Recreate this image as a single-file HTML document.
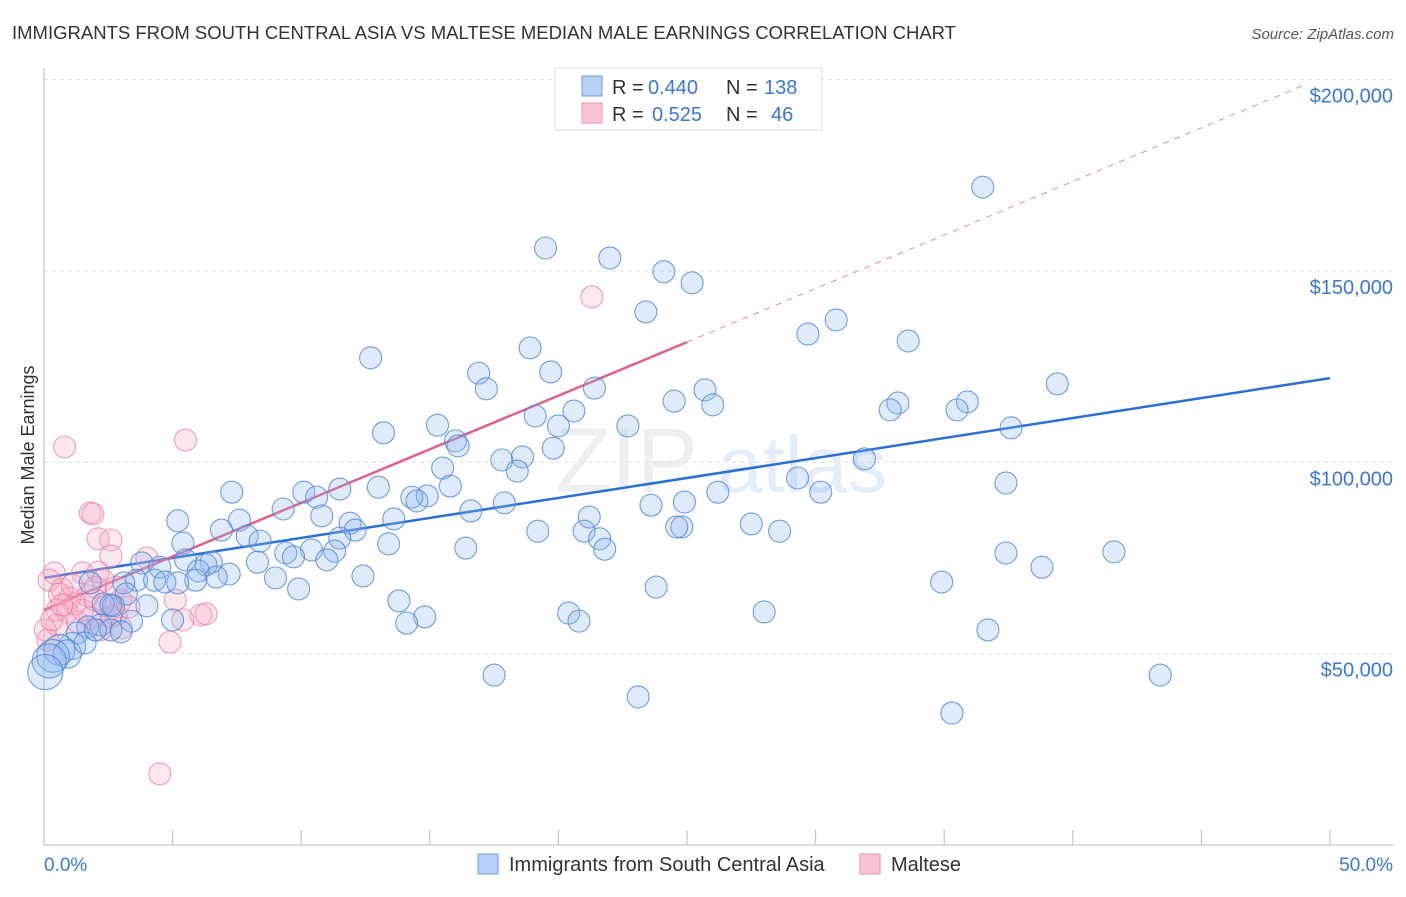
<!DOCTYPE html>
<html><head><meta charset="utf-8"><style>
body{margin:0;background:#fff;font-family:"Liberation Sans",sans-serif}
svg text{font-family:"Liberation Sans",sans-serif}
</style></head><body>
<svg id="chart" width="1406" height="892" xmlns="http://www.w3.org/2000/svg">
<text x="12" y="39" font-size="18.5" fill="#333">IMMIGRANTS FROM SOUTH CENTRAL ASIA VS MALTESE MEDIAN MALE EARNINGS CORRELATION CHART</text>
<text x="1394" y="39" font-size="15" fill="#555" font-style="italic" text-anchor="end">Source: ZipAtlas.com</text>
<g opacity="0.13"><text x="555" y="492" font-size="92" fill="#888" font-family="Liberation Serif">ZIP</text><text x="718" y="492" font-size="80" fill="#3a78d4">atlas</text></g>
<g id="grid"></g><g id="axes"></g><g id="lines"></g><g id="pts"></g>
<text transform="translate(34,455) rotate(-90)" font-size="18" fill="#333" text-anchor="middle">Median Male Earnings</text>
<g font-size="20">
<rect x="555" y="68" width="267" height="62" fill="#fff" stroke="#ddd"/>
<rect x="582" y="76" width="20" height="20" fill="#b7d0f3" stroke="#6b9be0"/>
<rect x="582" y="103" width="20" height="20" fill="#f9c5d5" stroke="#ec93ae"/>
<text x="612" y="94" fill="#333">R =</text><text x="648" y="94" fill="#3a78d4">0.440</text>
<text x="726" y="94" fill="#333">N =</text><text x="764" y="94" fill="#3a78d4">138</text>
<text x="612" y="121" fill="#333">R =</text><text x="652" y="121" fill="#3a78d4">0.525</text>
<text x="726" y="121" fill="#333">N =</text><text x="771" y="121" fill="#3a78d4">46</text>
</g>
<g font-size="20">
<rect x="478" y="854" width="20" height="20" fill="#b7d0f3" stroke="#6b9be0"/>
<text x="509" y="871" fill="#333">Immigrants from South Central Asia</text>
<rect x="860" y="854" width="20" height="20" fill="#f9c5d5" stroke="#ec93ae"/>
<text x="891" y="871" fill="#333">Maltese</text>
</g>
<text x="44" y="871" font-size="19" fill="#3a78d4">0.0%</text>
<text x="1393" y="871" font-size="19" fill="#3a78d4" text-anchor="end">50.0%</text>
</svg>
<script>
const yTicks=[50000,100000,150000,200000];
const yTickLabels=["$50,000","$100,000","$150,000","$200,000"];
const blueX=[19.5,22.0,24.1,25.2,36.5,23.4,30.8,29.7,33.6,18.9,12.7,19.7,16.9,17.2,25.7,21.4,39.4,33.2,24.5,26.0,35.9,32.9,35.5,20.6,19.1,22.7,20.0,37.6,15.3,13.2,16.0,16.1,19.8,15.5,17.8,18.6,18.4,31.9,29.3,37.4,15.8,13.0,11.5,10.1,10.6,7.3,14.9,14.3,14.5,24.9,17.9,23.6,26.2,30.2,16.6,21.2,10.8,5.2,9.3,13.6,11.9,7.6,12.1,6.9,19.2,21.0,24.8,24.6,27.5,28.6,7.9,8.4,11.5,13.4,21.6,21.8,16.4,5.4,11.3,10.4,9.4,9.7,37.4,41.6,38.8,11.0,8.3,6.5,5.5,3.8,6.3,4.5,6.0,7.2,6.7,9.0,12.4,3.6,4.3,3.1,4.7,5.9,34.9,23.8,9.9,1.8,3.2,2.3,2.7,13.8,4.0,20.4,28.0,14.8,14.1,20.8,5.0,3.4,2.2,1.7,1.3,2.6,36.7,1.1,0.6,0.9,0.35,0.2,0.05,17.5,43.4,23.1,35.3,2.6,1.6,5.2,3.0,2.0];
const blueY=[156.0,153.4,149.8,146.9,171.9,139.3,137.2,133.5,131.7,129.9,127.3,123.6,123.3,119.2,118.9,119.4,120.5,115.5,116.0,115.0,115.8,113.7,113.7,113.4,112.1,109.5,109.5,109.0,109.7,107.7,105.6,104.3,103.7,98.5,100.6,101.4,97.7,100.9,95.9,94.6,93.8,93.5,93.0,92.2,90.9,92.2,91.2,90.9,89.9,89.6,89.4,88.8,92.2,92.2,87.3,85.7,86.0,84.7,87.8,85.2,84.1,84.9,82.3,82.3,82.0,82.0,83.1,83.1,83.9,82.0,80.7,79.4,80.2,78.7,80.0,77.3,77.6,78.9,76.8,77.1,76.3,75.3,76.3,76.6,72.6,74.5,73.9,73.9,74.5,73.7,73.2,72.6,71.6,70.8,70.0,69.8,70.3,69.2,69.2,68.5,68.7,69.2,68.7,67.4,66.9,68.5,65.6,63.0,62.5,63.8,62.5,60.6,60.9,59.6,58.0,58.5,58.8,58.5,57.5,57.0,55.4,56.2,56.2,52.0,51.0,49.9,49.4,48.1,45.2,44.4,44.4,38.7,34.5,62.7,52.8,68.5,55.7,56.2];
const pinkX=[21.3,0.8,5.5,1.8,1.9,2.1,2.6,2.6,4.0,1.5,0.4,0.2,0.7,2.3,1.0,1.7,0.6,1.2,2.0,0.5,0.9,3.0,2.8,1.8,3.3,1.3,2.2,0.5,0.05,2.6,5.1,6.1,6.3,5.4,4.9,4.5,0.3,1.5,2.8,2.4,1.1,0.15,0.7,3.0,2.0,2.1];
const pinkY=[143.2,104.0,105.8,86.8,86.5,80.0,79.7,75.5,75.0,71.1,71.1,69.2,66.9,69.2,64.5,65.1,65.6,63.0,67.4,61.4,60.9,64.0,60.1,59.3,62.2,58.3,56.2,57.5,56.2,59.6,64.0,60.1,60.4,58.8,53.0,18.6,58.8,61.4,67.4,62.5,67.9,53.6,62.7,56.7,64.0,71.3];
const blueTrend=[69.8,122.0];
const pinkTrend=[61.4,201.4];
const pinkSolidEnd=25.0;
const NS="http://www.w3.org/2000/svg";
const X=p=>44+p*25.72, Y=k=>845-k*3.827;
function mk(t,a,parent){const e=document.createElementNS(NS,t);for(const k in a)e.setAttribute(k,a[k]);document.getElementById(parent).appendChild(e);return e;}
yTicks.forEach((v,i)=>{
 const l=mk('line',{x1:44,x2:1393,y1:Y(v/1000),y2:Y(v/1000),stroke:'#e2e2e2','stroke-dasharray':'4,4'},'grid');
 
 
 const t=mk('text',{x:1393,y:Y(v/1000)+23,'font-size':20,fill:'#3a78d4','text-anchor':'end'},'grid');
 t.textContent=yTickLabels[i];
 
 
});
const ya=mk('line',{x1:44,x2:44,y1:68,y2:845,stroke:'#bbb'},'axes');


const xa=mk('line',{x1:44,x2:1393,y1:845,y2:845,stroke:'#bbb'},'axes');


for(let i=0;i<=10;i++){const t=mk('line',{x1:X(i*5),x2:X(i*5),y1:830,y2:845,stroke:'#bbb'},'axes');
 
 }
function dots(xs,ys,fill,stroke,name){xs.forEach((x,i)=>{
 let r=11; if(x<1.2&&ys[i]<53&&name==='blue-point') r=13+(1.2-x)*4;
 const c=mk('circle',{cx:X(x),cy:Y(ys[i]),r:r,fill:fill,stroke:stroke,'stroke-width':1.1},'pts');
 
 });}
dots(pinkX,pinkY,'rgba(248,170,195,0.28)','rgba(236,130,165,0.75)','maltese-point');
dots(blueX,blueY,'rgba(140,180,240,0.28)','rgba(80,135,215,0.8)','blue-point');
const bl=mk('line',{x1:X(0),y1:Y(blueTrend[0]),x2:X(50),y2:Y(blueTrend[1]),stroke:'#2a6fd6','stroke-width':2.5},'lines');


const slope=(pinkTrend[1]-pinkTrend[0])/50;
const pl=mk('line',{x1:X(0),y1:Y(pinkTrend[0]),x2:X(pinkSolidEnd),y2:Y(pinkTrend[0]+slope*pinkSolidEnd),stroke:'#e0608a','stroke-width':2.5},'lines');


const pd=mk('line',{x1:X(pinkSolidEnd),y1:Y(pinkTrend[0]+slope*pinkSolidEnd),x2:X(49),y2:Y(pinkTrend[0]+slope*49),stroke:'#e88aa6','stroke-width':1,'stroke-dasharray':'6,6'},'lines');


</script>
</body></html>
